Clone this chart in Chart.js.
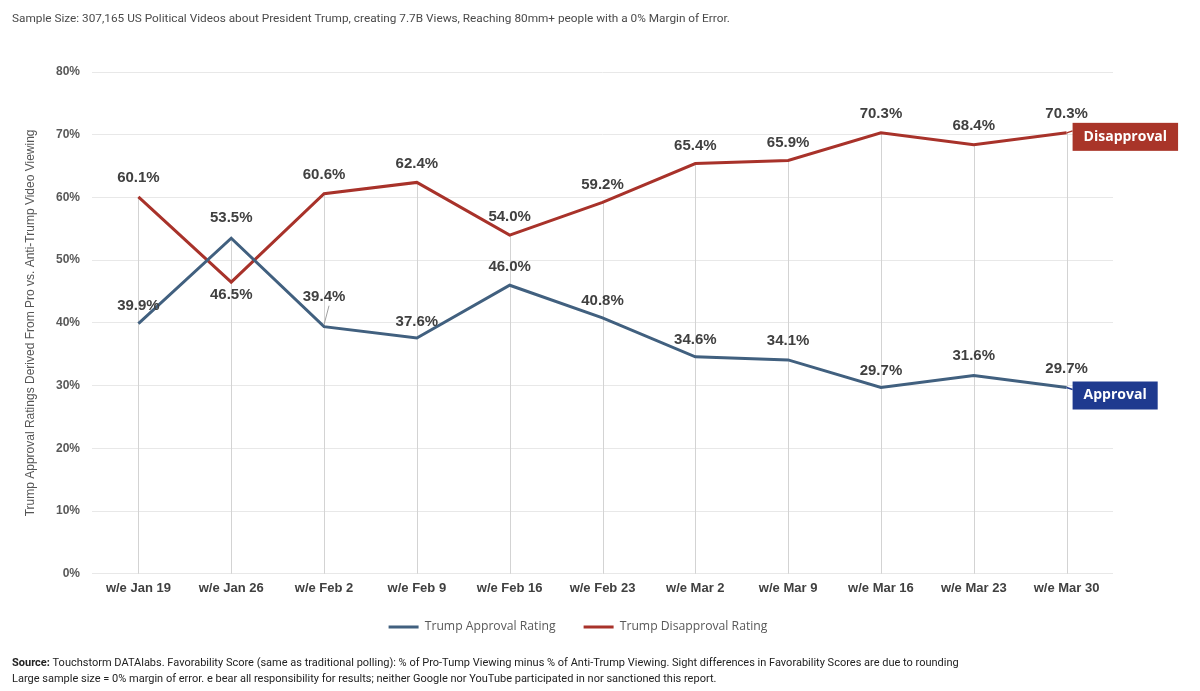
<!DOCTYPE html>
<html>
<head>
<meta charset="utf-8">
<script src="https://cdn.jsdelivr.net/npm/chart.js@4.4.1/dist/chart.umd.min.js"></script>
<style>
    html, body { margin: 0; padding: 0; background: #ffffff; }
    #wrap { width: 1200px; height: 691px; position: relative; }
</style>
</head>
<body>
<div id="wrap"><canvas id="myChart"></canvas></div>
<script>
// data
let weeks = ["w/e Jan 19", "w/e Jan 26", "w/e Feb 2", "w/e Feb 9", "w/e Feb 16", "w/e Feb 23",
    "w/e Mar 2", "w/e Mar 9", "w/e Mar 16", "w/e Mar 23", "w/e Mar 30"];
let approval = [39.9, 53.5, 39.4, 37.6, 46.0, 40.8, 34.6, 34.1, 29.7, 31.6, 29.7];
let disapproval = [60.1, 46.5, 60.6, 62.4, 54.0, 59.2, 65.4, 65.9, 70.3, 68.4, 70.3];
let yTicks = [0, 10, 20, 30, 40, 50, 60, 70, 80];

// label placement (style only)
let approvalLabelShift = [-18, -20, -30, -16, -18, -17, -17, -19, -17, -20, -19];
let disapprovalLabelShift = [-19, 13, -19, -19, -18, -18, -18, -18, -19, -19, -19];

let approvalColor = "#41607f";
let disapprovalColor = "#a8322a";

let dropLines = {
    id: "dropLines",
    beforeDatasetsDraw(chart) {
        let ctx = chart.ctx;
        let x = chart.scales.x, y = chart.scales.y;
        ctx.save();
        ctx.strokeStyle = "#d3d3d3";
        ctx.lineWidth = 1;
        weeks.forEach((w, i) => {
            let px = Math.round(x.getPixelForValue(i)) + 0.5;
            let top = y.getPixelForValue(Math.max(approval[i], disapproval[i]));
            ctx.beginPath();
            ctx.moveTo(px, top);
            ctx.lineTo(px, y.getPixelForValue(0));
            ctx.stroke();
        });
        ctx.restore();
    },
};

let valueLabels = {
    id: "valueLabels",
    afterDatasetsDraw(chart) {
        let ctx = chart.ctx;
        ctx.save();
        ctx.font = "bold 15px 'Liberation Sans', Arial, sans-serif";
        ctx.fillStyle = "#404040";
        ctx.textAlign = "center";
        ctx.textBaseline = "middle";
        [[0, approvalLabelShift], [1, disapprovalLabelShift]].forEach(([d, shifts]) => {
            let meta = chart.getDatasetMeta(d);
            let values = chart.data.datasets[d].data;
            meta.data.forEach((pt, i) => {
                let ly = pt.y + shifts[i];
                if (shifts[i] < -25) {
                    ctx.strokeStyle = "#a0a0a0";
                    ctx.lineWidth = 1;
                    ctx.beginPath();
                    ctx.moveTo(pt.x + 5, ly + 9);
                    ctx.lineTo(pt.x, pt.y - 2);
                    ctx.stroke();
                }
                ctx.fillText(values[i].toFixed(1) + "%", pt.x, ly);
            });
        });

        // end tags
        let tags = [[1, "Disapproval", "#a93529", -10], [0, "Approval", "#1f3a8f", -6]];
        ctx.font = "bold 14px 'Open Sans', sans-serif";
        tags.forEach(([d, text, color, dy]) => {
            let meta = chart.getDatasetMeta(d);
            let pt = meta.data[meta.data.length - 1];
            let w = ctx.measureText(text).width + 22;
            let bx = pt.x + 6, by = pt.y + dy;
            ctx.strokeStyle = color;
            ctx.lineWidth = 1.5;
            ctx.beginPath();
            ctx.moveTo(pt.x, pt.y);
            ctx.lineTo(bx, by + 8);
            ctx.stroke();
            ctx.fillStyle = color;
            ctx.fillRect(bx, by, w, 28);
            ctx.fillStyle = "#ffffff";
            ctx.textAlign = "left";
            ctx.fillText(text, bx + 11, by + 14);
        });
        ctx.restore();
    },
};

let pageText = {
    id: "pageText",
    afterDraw(chart) {
        let ctx = chart.ctx;
        ctx.save();
        ctx.textBaseline = "middle";
        ctx.fillStyle = "#4a4a4a";
        ctx.font = "11.8px Roboto, sans-serif";
        ctx.fillText("Sample Size: 307,165 US Political Videos about President Trump, creating 7.7B Views, Reaching 80mm+ people with a 0% Margin of Error.", 12, 19);

        ctx.fillStyle = "#222222";
        ctx.font = "bold 11px Roboto, sans-serif";
        ctx.fillText("Source:", 12, 663);
        let sw = ctx.measureText("Source: ").width;
        ctx.font = "11px Roboto, sans-serif";
        ctx.fillText("Touchstorm DATAlabs. Favorability Score (same as traditional polling): % of Pro-Tump Viewing minus % of Anti-Trump Viewing. Sight differences in Favorability Scores are due to rounding", 12 + sw, 663);
        ctx.fillText("Large sample size = 0% margin of error. e bear all responsibility for results; neither Google nor YouTube participated in nor sanctioned this report.", 12, 679);
        ctx.restore();
    },
};

let ctx = document.getElementById("myChart").getContext("2d");
let myChart = new Chart(ctx, {
    type: "line",
    data: {
        labels: weeks,
        datasets: [
            {
                label: "Trump Approval Rating",
                data: approval,
                borderColor: approvalColor,
                backgroundColor: approvalColor,
                borderWidth: 3,
                pointRadius: 0,
                tension: 0,
            },
            {
                label: "Trump Disapproval Rating",
                data: disapproval,
                borderColor: disapprovalColor,
                backgroundColor: disapprovalColor,
                borderWidth: 3,
                pointRadius: 0,
                tension: 0,
            },
        ],
    },
    options: {
        responsive: true,
        maintainAspectRatio: false,
        animation: false,
        layout: {
            padding: { top: 72, right: 87, bottom: 48, left: 43 },
        },
        plugins: {
            legend: {
                position: "bottom",
                labels: {
                    usePointStyle: true,
                    pointStyle: "line",
                    pointStyleWidth: 30,
                    boxHeight: 3,
                    color: "#595959",
                    font: { family: "'Open Sans', sans-serif", size: 12.2 },
                    padding: 28,
                },
            },
            tooltip: { enabled: false },
        },
        scales: {
            x: {
                offset: true,
                afterFit: (scale) => { scale.height = 19; },
                grid: { display: false, drawTicks: false },
                border: { display: false },
                ticks: {
                    color: "#404040",
                    padding: 7,
                    font: { family: "'Liberation Sans', Arial, sans-serif", size: 13, weight: "bold" },
                },
            },
            y: {
                min: 0,
                max: 80,
                afterFit: (scale) => { scale.width = 49; },
                afterBuildTicks: (scale) => { scale.ticks = yTicks.map((v) => ({ value: v })); },
                grid: { color: "#e8e8e8", drawTicks: false },
                border: { display: false },
                ticks: {
                    color: "#595959",
                    padding: 12,
                    font: { family: "'Liberation Sans', Arial, sans-serif", size: 12, weight: "bold" },
                    callback: (v) => v + "%",
                },
                title: {
                    display: true,
                    text: "Trump Approval Ratings Derived From Pro vs. Anti-Trump Video Viewing",
                    color: "#555555",
                    padding: { top: -20, bottom: 0 },
                    font: { family: "'Liberation Sans', Arial, sans-serif", size: 12 },
                },
            },
        },
    },
    plugins: [dropLines, valueLabels, pageText],
});
</script>
</body>
</html>
